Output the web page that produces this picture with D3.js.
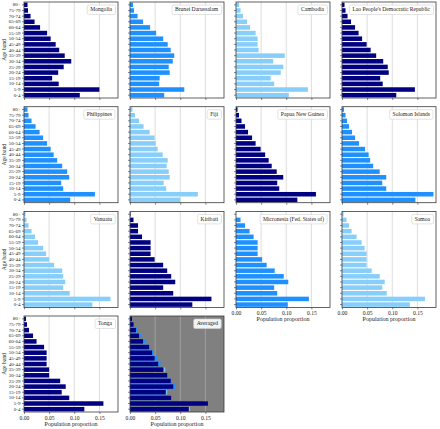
<!DOCTYPE html>
<html><head><meta charset="utf-8">
<script src="https://cdn.jsdelivr.net/npm/d3@7"></script>
<style>body{margin:0;background:#fff}svg{display:block}</style>
</head><body>
<script>
const ageBands = ["0-4","5-9","10-14","15-19","20-24","25-29","30-34","35-39","40-44","45-49","50-54","55-59","60-64","65-69","70-74","75-79","80+"];
const xTicks = [0, 0.05, 0.10, 0.15];
const countries = ["Mongolia","Brunei Darussalam","Cambodia","Lao People's Democratic Republic","Philippines","Fiji","Papua New Guinea","Solomon Islands","Vanuatu","Kiribati","Micronesia (Fed. States of)","Samoa","Tonga"];
const colorGroup = ["navy","dodger","sky","navy","dodger","sky","navy","dodger","sky","navy","dodger","sky","navy"];
const mongolia   = [0.111,0.150,0.069,0.056,0.068,0.079,0.094,0.081,0.070,0.063,0.053,0.046,0.032,0.021,0.013,0.008,0.007];
const brunei     = [0.068,0.108,0.058,0.059,0.079,0.077,0.085,0.088,0.081,0.075,0.066,0.052,0.040,0.026,0.015,0.008,0.006];
const cambodia   = [0.105,0.143,0.076,0.069,0.089,0.094,0.074,0.097,0.045,0.043,0.043,0.039,0.028,0.022,0.014,0.009,0.006];
const lao        = [0.108,0.145,0.081,0.076,0.093,0.091,0.082,0.068,0.057,0.049,0.040,0.033,0.026,0.018,0.011,0.007,0.005];
const philippines= [0.092,0.141,0.078,0.074,0.090,0.086,0.076,0.066,0.059,0.053,0.046,0.038,0.031,0.023,0.015,0.009,0.007];
const fiji       = [0.100,0.135,0.072,0.067,0.079,0.077,0.073,0.075,0.065,0.055,0.051,0.049,0.039,0.027,0.018,0.010,0.005];
const papua      = [0.122,0.159,0.086,0.082,0.094,0.081,0.071,0.065,0.058,0.049,0.039,0.032,0.024,0.018,0.011,0.006,0.003];
const solomon    = [0.146,0.182,0.088,0.080,0.088,0.075,0.062,0.056,0.053,0.046,0.034,0.026,0.020,0.014,0.010,0.007,0.004];
const vanuatu    = [0.136,0.172,0.091,0.078,0.082,0.078,0.076,0.060,0.050,0.044,0.038,0.028,0.022,0.015,0.009,0.005,0.003];
const kiribati   = [0.124,0.162,0.086,0.066,0.090,0.082,0.074,0.066,0.049,0.041,0.041,0.041,0.024,0.016,0.016,0.007,0.001];
const micronesia = [0.103,0.145,0.082,0.076,0.104,0.095,0.077,0.061,0.052,0.043,0.043,0.043,0.035,0.027,0.018,0.009,0.000];
const samoa      = [0.135,0.165,0.089,0.080,0.085,0.075,0.059,0.049,0.049,0.049,0.045,0.039,0.029,0.019,0.014,0.009,0.003];
const tonga      = [0.120,0.158,0.090,0.075,0.083,0.072,0.050,0.050,0.045,0.045,0.045,0.040,0.025,0.018,0.010,0.006,0.004];
// "Averaged" panel: one averaged profile per colour group
const avgSky     = [0.119,0.154,0.082,0.074,0.084,0.081,0.071,0.070,0.052,0.048,0.044,0.039,0.030,0.021,0.014,0.008,0.004];
const avgDodger  = [0.102,0.144,0.077,0.072,0.090,0.083,0.075,0.068,0.061,0.054,0.047,0.040,0.032,0.023,0.015,0.008,0.004];
const avgNavy    = [0.117,0.155,0.082,0.071,0.086,0.081,0.074,0.066,0.056,0.049,0.044,0.038,0.026,0.018,0.012,0.007,0.004];
const series = [mongolia,brunei,cambodia,lao,philippines,fiji,papua,solomon,vanuatu,kiribati,micronesia,samoa,tonga];
const avgSeries = [avgSky, avgDodger, avgNavy];
const avgGroups = ["sky","dodger","navy"];
const palette = {navy:"#000080", dodger:"#1e90ff", sky:"#87cefa"};

const W = 440, H = 429;
const colLeft = [24,130,236,342], pw = 94;
const rowTop = [2,106.7,211.4,316], ph = 96;
const font = "'Liberation Serif', 'DejaVu Serif', serif";

const svg = d3.select("body").append("svg").attr("width",W).attr("height",H)
  .style("font-family",font);

const x = d3.scaleLinear().domain([0,0.187]).range([0,pw]);
const y = d3.scaleBand().domain(ageBands.slice().reverse()).range([0,ph]).paddingInner(0.2).paddingOuter(0.1);

function panel(i, title, sets, groups, isAvg) {
  const r = Math.floor(i/4), c = i%4;
  const g = svg.append("g").attr("transform",`translate(${colLeft[c]},${rowTop[r]})`);
  g.append("rect").attr("width",pw).attr("height",ph).attr("fill", isAvg ? "#808080" : "#fff");
  g.selectAll("line.grid").data(xTicks.slice(1)).join("line").attr("class","grid")
    .attr("x1",d=>x(d)).attr("x2",d=>x(d)).attr("y1",0).attr("y2",ph)
    .attr("stroke", isAvg ? "#a8a8a8" : "#d4d4d4").attr("stroke-width",0.8);
  sets.forEach((vals,k)=>{
    g.append("g").selectAll("rect").data(vals).join("rect")
      .attr("x",0).attr("y",(d,j)=>y(ageBands[j]))
      .attr("width",d=>x(d)).attr("height",y.bandwidth())
      .attr("fill",palette[groups[k]]);
  });
  const showX = (i>=10);
  const xAxis = d3.axisBottom(x).tickValues(xTicks).tickSize(2).tickPadding(2)
    .tickFormat(showX ? d3.format(".2f") : "");
  const gx = g.append("g").attr("transform",`translate(0,${ph})`).call(xAxis);
  const yAxis = d3.axisLeft(y).tickSize(2).tickPadding(1.5).tickFormat(c===0 ? (d=>d) : "");
  const gy = g.append("g").call(yAxis);
  [gx,gy].forEach(a=>{
    a.select(".domain").remove();
    a.selectAll(".tick line").attr("stroke","#333").attr("stroke-width",0.6);
    a.selectAll("text").attr("fill","#222").style("font-family",font);
  });
  gx.selectAll("text").attr("font-size",5.6);
  gy.selectAll("text").attr("font-size",5);
  g.append("rect").attr("width",pw).attr("height",ph).attr("fill","none")
    .attr("stroke","#3a3a3a").attr("stroke-width",0.8);
  const lg = g.append("g");
  const box = lg.append("rect");
  const t = lg.append("text").attr("font-size",5.6).attr("fill","#222")
    .attr("text-anchor","end").attr("x",pw-6).attr("y",9.4).text(title);
  const bb = t.node().getBBox();
  box.attr("x",bb.x-3).attr("y",3).attr("width",bb.width+6).attr("height",9.5)
    .attr("rx",1.5).attr("fill","#fff").attr("fill-opacity",0.9)
    .attr("stroke","#d0d0d0").attr("stroke-width",0.6);
  if (c===0) {
    g.append("text").attr("transform",`translate(${-18},${ph/2}) rotate(-90)`)
      .attr("text-anchor","middle").attr("font-size",5.6).attr("fill","#222").text("Age band");
  }
  if (showX) {
    g.append("text").attr("x",pw/2).attr("y",ph+14).attr("text-anchor","middle")
      .attr("font-size",6).attr("fill","#222").text("Population proportion");
  }
}
series.forEach((s,i)=>panel(i, countries[i], [s], [colorGroup[i]], false));
panel(13, "Averaged", avgSeries, avgGroups, true);
</script>
</body></html>
